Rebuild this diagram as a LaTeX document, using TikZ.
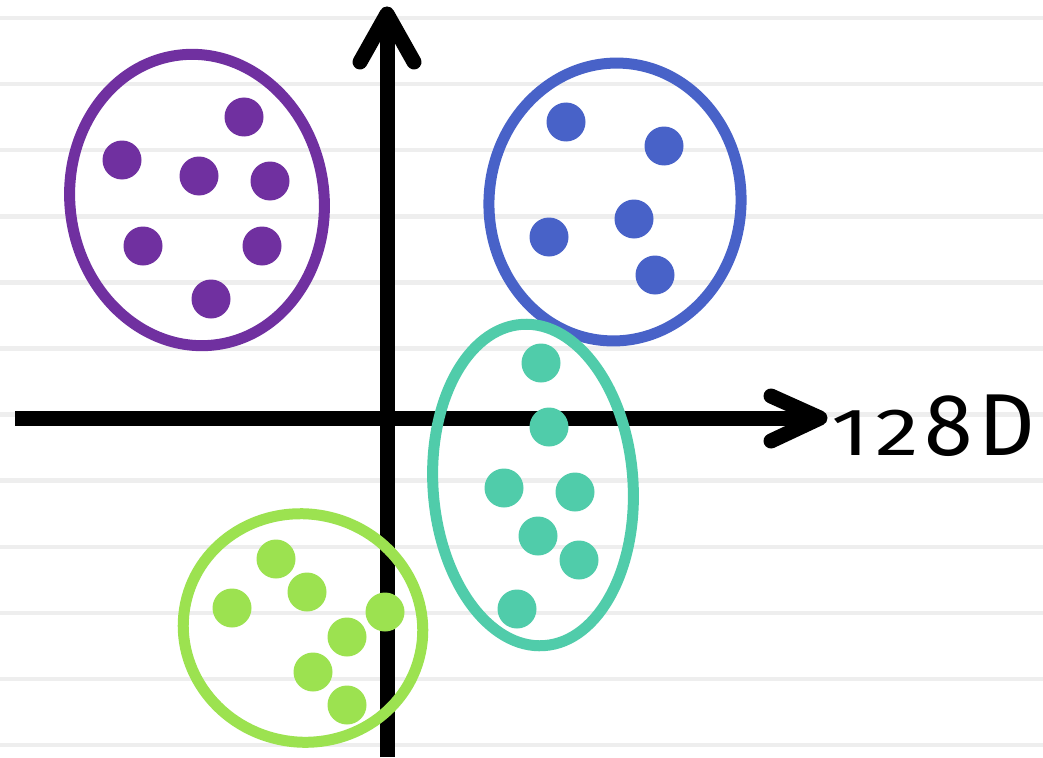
\documentclass[tikz,border=0pt]{standalone}
\usepackage{fontspec}
\usepackage{graphicx}
\newfontfamily\labelfont{Fira Sans}
\definecolor{cpurple}{HTML}{7030A0}
\definecolor{cblue}{HTML}{4862C8}
\definecolor{cteal}{HTML}{50CCAA}
\definecolor{cgreen}{HTML}{9CE250}
\definecolor{rule}{HTML}{EEEEEE}
\newcommand{\lowfig}[1]{\scalebox{1}[0.76]{#1}}
\tikzset{
  ruleline/.style={draw=rule, line width=4.5},
  axisline/.style={draw=black, line width=15},
  tipline/.style={draw=black, line width=15, line cap=round, line join=round},
  cluster/.style={line width=11},
}
\begin{document}
\begin{tikzpicture}[x=1pt,y=-1pt]
\useasboundingbox (0,0) rectangle (1043,757);
\fill[white] (0,0) rectangle (1043,757);
% ruled paper
\foreach \k in {0,...,11}{
  \draw[ruleline] (0,{18+66.1*\k}) -- (1043,{18+66.1*\k});
}
% axes
\coordinate (yb) at (387,757);
\coordinate (yt) at (387,14);
\coordinate (yl) at (360,62);
\coordinate (yr) at (414,62);
\coordinate (xl) at (15,418);
\coordinate (xe) at (816,418);
\coordinate (xr) at (820,418);
\coordinate (xu) at (771,396);
\coordinate (xd) at (771,441);
\draw[axisline] (yb) -- (yt);
\draw[tipline] (yl) -- (yt) -- (yr);
\draw[axisline] (xl) -- (xe);
\draw[tipline] (xu) -- (xr) -- (xd);
\node[anchor=base west, inner sep=0pt, font=\labelfont\fontsize{88}{88}\selectfont] (lbl) at (831,455) {\lowfig{1}\hspace{6pt}\lowfig{2}\hspace{6pt}8\hspace{5pt}D};
% purple cluster
\draw[cluster, draw=cpurple, rotate around={8:(197,200)}] (197,200) ellipse [x radius=127, y radius=146];
\foreach \p in {(244,117),(122,160),(199,176),(270,181),(143,246),(262,246),(211,299)}
  \fill[cpurple] \p circle (19.5);
% blue cluster
\draw[cluster, draw=cblue, rotate around={-4:(615,202)}] (615,202) ellipse [x radius=126, y radius=139];
\foreach \p in {(566,122),(664,146),(634,219),(549,237),(655,275)}
  \fill[cblue] \p circle (19.5);
% teal cluster
\draw[cluster, draw=cteal, rotate around={4:(533,485)}] (533,485) ellipse [x radius=100, y radius=161];
\foreach \p in {(541,363),(549,427),(504,488),(575,492),(538,536),(579,560),(517,609)}
  \fill[cteal] \p circle (19.5);
% green cluster
\draw[cluster, draw=cgreen, rotate around={-12:(303,628)}] (303,628) ellipse [x radius=120, y radius=114];
\foreach \p in {(276,559),(307,592),(232,608),(385,612),(347,637),(313,672),(347,705)}
  \fill[cgreen] \p circle (19.5);
\end{tikzpicture}
\end{document}
